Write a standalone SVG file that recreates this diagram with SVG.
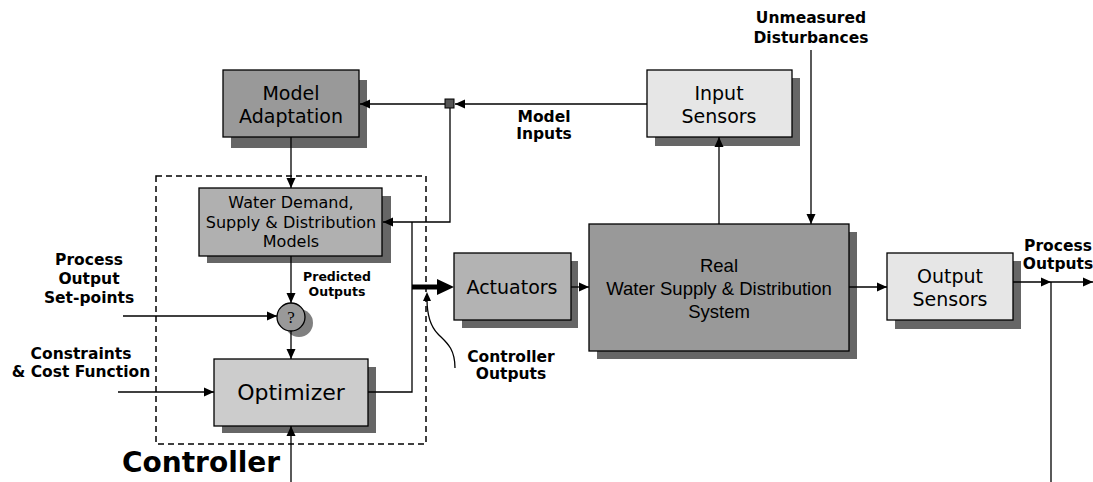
<svg xmlns="http://www.w3.org/2000/svg" width="1093" height="482" viewBox="0 0 1093 482">
<style>
.box{stroke:#000;stroke-width:1.3}
.sh{fill:#666}
.t{font-family:"DejaVu Sans",Verdana,sans-serif;text-anchor:middle;fill:#000}
.ta{font-family:"Liberation Sans",Arial,sans-serif;text-anchor:middle;fill:#000;font-size:18.5px}
.lb{font-family:"DejaVu Sans",Verdana,sans-serif;font-weight:bold;text-anchor:middle;fill:#000;font-size:15.5px}
.sm{font-size:12.5px}
.ln{fill:none;stroke:#000;stroke-width:1.3}
</style>
<defs>
<marker id="ah" markerUnits="userSpaceOnUse" markerWidth="10" markerHeight="10" refX="10" refY="5" orient="auto" viewBox="0 0 10 10">
<path d="M0,0.5 L10,5 L0,9.5 z" fill="#000"/>
</marker>
</defs>
<rect width="1093" height="482" fill="#fff"/>

<g id="controller-frame">
<rect x="156" y="176" width="270" height="268" fill="none" stroke="#000" stroke-width="1.5" stroke-dasharray="6,4"/>
<text class="t" x="122" y="472" style="font-weight:bold;font-size:28px;text-anchor:start">Controller</text>
</g>

<g id="model-adaptation">
<rect class="sh" x="231" y="80" width="136" height="68"/>
<rect class="box" x="223" y="70" width="136" height="67" fill="#999"/>
<text class="t" x="291" y="100" font-size="19">Model</text>
<text class="t" x="291" y="123" font-size="19">Adaptation</text>
</g>

<g id="models">
<rect class="sh" x="207" y="196" width="184" height="67"/>
<rect class="box" x="199" y="188" width="183" height="68" fill="#b0b0b0"/>
<text class="t" x="291" y="208" font-size="16">Water Demand,</text>
<text class="t" x="291" y="228" font-size="16">Supply &amp; Distribution</text>
<text class="t" x="291" y="247" font-size="16">Models</text>
</g>

<g id="comparator">
<circle cx="299" cy="323" r="14" fill="#808080"/>
<circle cx="291" cy="317" r="14" fill="#999" stroke="#000" stroke-width="1.3"/>
<text x="291" y="323" font-family="Liberation Serif,serif" font-size="17" text-anchor="middle">?</text>
</g>

<g id="optimizer">
<rect class="sh" x="222" y="367" width="154" height="66"/>
<rect class="box" x="214" y="359" width="154" height="67" fill="#ccc"/>
<text class="t" x="291" y="400" font-size="22">Optimizer</text>
</g>

<g id="actuators">
<rect class="sh" x="462" y="261" width="116" height="67"/>
<rect class="box" x="454" y="253" width="117" height="67" fill="#b3b3b3"/>
<text class="t" x="512" y="294" font-size="19">Actuators</text>
</g>

<g id="real-system">
<rect class="sh" x="597" y="232" width="260" height="127"/>
<rect class="box" x="589" y="224" width="260" height="127" fill="#999"/>
<text class="ta" x="719" y="272">Real</text>
<text class="ta" x="719" y="295">Water Supply &amp; Distribution</text>
<text class="ta" x="719" y="318">System</text>
</g>

<g id="input-sensors">
<rect class="sh" x="655" y="78" width="145" height="68"/>
<rect class="box" x="647" y="70" width="145" height="67" fill="#e6e6e6"/>
<text class="t" x="719" y="100" font-size="19">Input</text>
<text class="t" x="719" y="123" font-size="19">Sensors</text>
</g>

<g id="output-sensors">
<rect class="sh" x="895" y="261" width="126" height="68"/>
<rect class="box" x="887" y="253" width="126" height="67" fill="#e6e6e6"/>
<text class="t" x="950" y="283" font-size="19">Output</text>
<text class="t" x="950" y="306" font-size="19">Sensors</text>
</g>

<g id="junction">
<rect x="445" y="99" width="9" height="9" fill="#555" stroke="#000" stroke-width="1"/>
</g>

<g id="connectors">
<line class="ln" x1="647" y1="104" x2="455" y2="104" marker-end="url(#ah)"/>
<line class="ln" x1="445" y1="104" x2="360" y2="104" marker-end="url(#ah)"/>
<polyline class="ln" points="450,108 450,222 383,222" marker-end="url(#ah)"/>
<line class="ln" x1="291" y1="137" x2="291" y2="188" marker-end="url(#ah)"/>
<line class="ln" x1="291" y1="256" x2="291" y2="303" marker-end="url(#ah)"/>
<line class="ln" x1="291" y1="331" x2="291" y2="359" marker-end="url(#ah)"/>
<line class="ln" x1="123" y1="316" x2="277" y2="316" marker-end="url(#ah)"/>
<line class="ln" x1="118" y1="392" x2="214" y2="392" marker-end="url(#ah)"/>
<line class="ln" x1="291" y1="482" x2="291" y2="426" marker-end="url(#ah)"/>
<polyline class="ln" points="368,392 412,392 412,222"/>
<line x1="412" y1="287" x2="440" y2="287" stroke="#000" stroke-width="5"/>
<path d="M437,279 L454,287 L437,295 z" fill="#000"/>
<path class="ln" d="M455,368 C455,348 446,342 438,334 C430,326 427,314 427,299"/>
<path d="M423,301 L427,292 L431,301 z" fill="#000"/>
<line class="ln" x1="571" y1="287" x2="589" y2="287" marker-end="url(#ah)"/>
<line class="ln" x1="719" y1="224" x2="719" y2="137" marker-end="url(#ah)"/>
<line class="ln" x1="811" y1="50" x2="811" y2="224" marker-end="url(#ah)"/>
<line class="ln" x1="849" y1="287" x2="887" y2="287" marker-end="url(#ah)"/>
<line class="ln" x1="1013" y1="282" x2="1051" y2="282" marker-end="url(#ah)"/>
<line class="ln" x1="1051" y1="282" x2="1093" y2="282" marker-end="url(#ah)"/>
<line class="ln" x1="1051" y1="282" x2="1051" y2="482"/>
</g>

<g id="labels">
<text class="lb" x="811" y="23">Unmeasured</text>
<text class="lb" x="811" y="43">Disturbances</text>
<text class="lb" x="544" y="122">Model</text>
<text class="lb" x="544" y="139">Inputs</text>
<text class="lb sm" x="337" y="281">Predicted</text>
<text class="lb sm" x="337" y="296">Outputs</text>
<text class="lb" x="89" y="265">Process</text>
<text class="lb" x="89" y="284">Output</text>
<text class="lb" x="89" y="303">Set-points</text>
<text class="lb" x="81" y="359">Constraints</text>
<text class="lb" x="81" y="377">&amp; Cost Function</text>
<text class="lb" x="511" y="362">Controller</text>
<text class="lb" x="511" y="379">Outputs</text>
<text class="lb" x="1058" y="251">Process</text>
<text class="lb" x="1058" y="269">Outputs</text>
</g>
</svg>
